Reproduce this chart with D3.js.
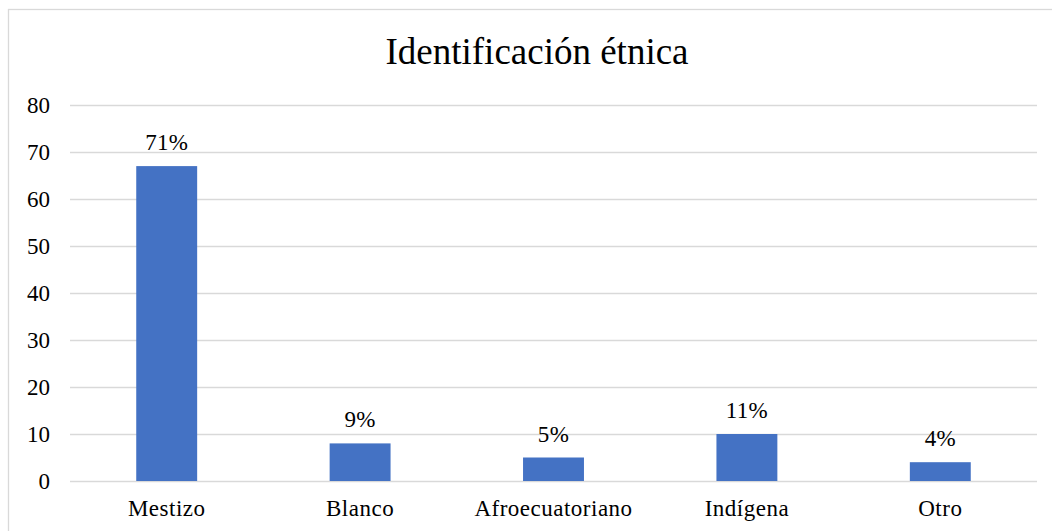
<!DOCTYPE html>
<html><head><meta charset="utf-8">
<script src="https://cdn.jsdelivr.net/npm/d3@7"></script>
<style>body{margin:0;background:#fff}svg{display:block}</style>
</head><body>
<script>
const categories = ["Mestizo","Blanco","Afroecuatoriano","Indígena","Otro"];
const values = [67, 8, 5, 10, 4];
const labels = ["71%","9%","5%","11%","4%"];
const yTicks = [0,10,20,30,40,50,60,70,80];

const W = 1052, H = 531;
const svg = d3.select("body").append("svg").attr("width", W).attr("height", H);
const font = "'Liberation Serif','Times New Roman',serif";

svg.append("rect").attr("x",8.5).attr("y",9.5).attr("width",W+10).attr("height",H+10)
  .attr("fill","#fff").attr("stroke","#d9d9d9").attr("stroke-width",1.3);

const m = {left:70, right:1037, top:105, bottom:481};
const x = d3.scaleBand().domain(categories).range([m.left, m.right]).paddingInner(0.685).paddingOuter(0.3425);
const y = d3.scaleLinear().domain([0,80]).range([m.bottom, m.top]);

svg.append("text").attr("x",537).attr("y",64).attr("text-anchor","middle")
  .attr("font-family",font).attr("font-size",37).attr("fill","#000").text("Identificación étnica");

const yAxis = svg.append("g").attr("transform",`translate(${m.left},0)`)
  .call(d3.axisLeft(y).tickValues(yTicks).tickSize(-(m.right-m.left)).tickPadding(20));
yAxis.select(".domain").remove();
yAxis.selectAll(".tick line").attr("stroke","#d9d9d9").attr("stroke-width",1.5);
yAxis.selectAll(".tick text").attr("font-family",font).attr("font-size",23).attr("fill","#000").attr("dy","0.34em");

svg.append("g").selectAll("rect").data(values).join("rect")
  .attr("x",(d,i)=>x(categories[i])).attr("width",x.bandwidth())
  .attr("y",d=>y(d)).attr("height",d=>y(0)-y(d)).attr("fill","#4472c4");

svg.append("g").selectAll("text").data(values).join("text")
  .attr("x",(d,i)=>x(categories[i])+x.bandwidth()/2).attr("y",d=>y(d)-16)
  .attr("text-anchor","middle").attr("font-family",font).attr("font-size",23).attr("fill","#000")
  .attr("letter-spacing","0.3px")
  .text((d,i)=>labels[i]);

const xAxis = svg.append("g").attr("transform",`translate(0,${m.bottom})`)
  .call(d3.axisBottom(x).tickSize(0));
xAxis.select(".domain").remove();
xAxis.selectAll(".tick text").attr("font-family",font).attr("font-size",23).attr("fill","#000")
  .attr("y",35).attr("dy","0").attr("letter-spacing","0.5px");
</script>
</body></html>
